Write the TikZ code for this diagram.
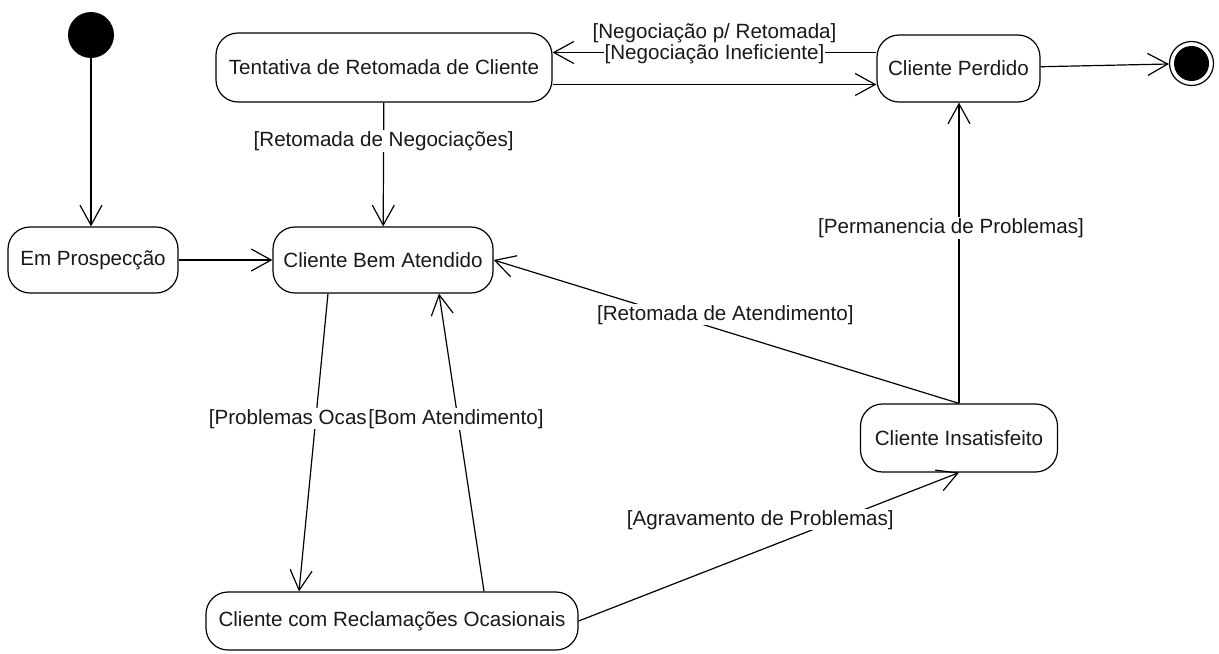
\documentclass[tikz,border=0pt]{standalone}
\usepackage{fontspec}
\setmainfont{Liberation Sans}
\usetikzlibrary{arrows.meta}
\begin{document}
\begin{tikzpicture}[x=0.5pt,y=-0.5pt,
  txt/.style={font=\fontsize{10.3}{12}\selectfont, text=black!90},
  state/.style={txt, draw, line width=0.6pt, rounded corners=11pt, fill=white, inner sep=0pt},
  guard/.style={txt, fill=white, inner sep=0.5pt},
  trans/.style={line width=0.6pt, -{Straight Barb[length=10pt,width=11pt,line width=0.6pt]}},
]
\useasboundingbox (0,0) rectangle (1219,653);

% states
\node[circle, fill=black, minimum size=23pt, inner sep=0pt] (start) at (91,35) {};
\node[state, minimum width=168pt, minimum height=34.5pt] (tent) at (384,67.5) {Tentativa de Retomada de Cliente};
\node[state, minimum width=81.5pt, minimum height=33.5pt] (perd) at (958.5,68.5) {Cliente Perdido};
\node[circle, draw, line width=0.6pt, minimum size=22pt, inner sep=0pt] (final) at (1191.5,63.5) {};
\fill (final) circle (8.75pt);
\node[state, minimum width=85pt, minimum height=33pt] (prosp) at (93,260) {Em Prospecção};
\node[state, minimum width=110pt, minimum height=33pt] (bem) at (383,260) {Cliente Bem Atendido};
\node[state, minimum width=186pt, minimum height=29pt] (recl) at (392,621) {Cliente com Reclamações Ocasionais};
\node[state, minimum width=98.5pt, minimum height=34pt] (insat) at (959,438) {Cliente Insatisfeito};

% transitions
\draw[trans] (start.south) -- (start.south |- prosp.north);
\draw[trans] (prosp) -- (bem);
\draw[trans] (tent) -- node[guard, pos=0.31] {[Retomada de Negociações]} (bem);
\draw[trans] ([yshift=8pt]perd.west) -- node[guard, yshift=9.5pt] {[Negociação p/ Retomada]} ([yshift=8pt]perd.west -| tent.east);
\draw[trans] ([yshift=-8.5pt]tent.east) -- node[guard, yshift=15pt] {[Negociação Ineficiente]} ([yshift=-8.5pt]tent.east -| perd.west);
\draw[trans] (perd) -- (final);
\draw[trans] (insat.north) -- node[guard, pos=0.583, xshift=-4pt] {[Permanencia de Problemas]} (insat.north |- perd.south);
\draw[trans] (insat.north) -- node[guard, pos=0.5, xshift=-0.5pt, yshift=8.5pt] {[Retomada de Atendimento]} (bem.east);
\draw[trans] ([xshift=-27.5pt]bem.south) -- node[guard, pos=0.42, xshift=-14pt] {[Problemas Ocas} ([xshift=-46.5pt]recl.north);
\draw[trans] ([xshift=46pt]recl.north) -- node[guard, pos=0.579, xshift=-1pt] {[Bom Atendimento]} ([xshift=28pt]bem.south);
\draw[trans] (recl.east) -- node[guard, pos=0.5, xshift=-4.25pt, yshift=13.5pt] {[Agravamento de Problemas]} (insat.south);
\end{tikzpicture}
\end{document}
